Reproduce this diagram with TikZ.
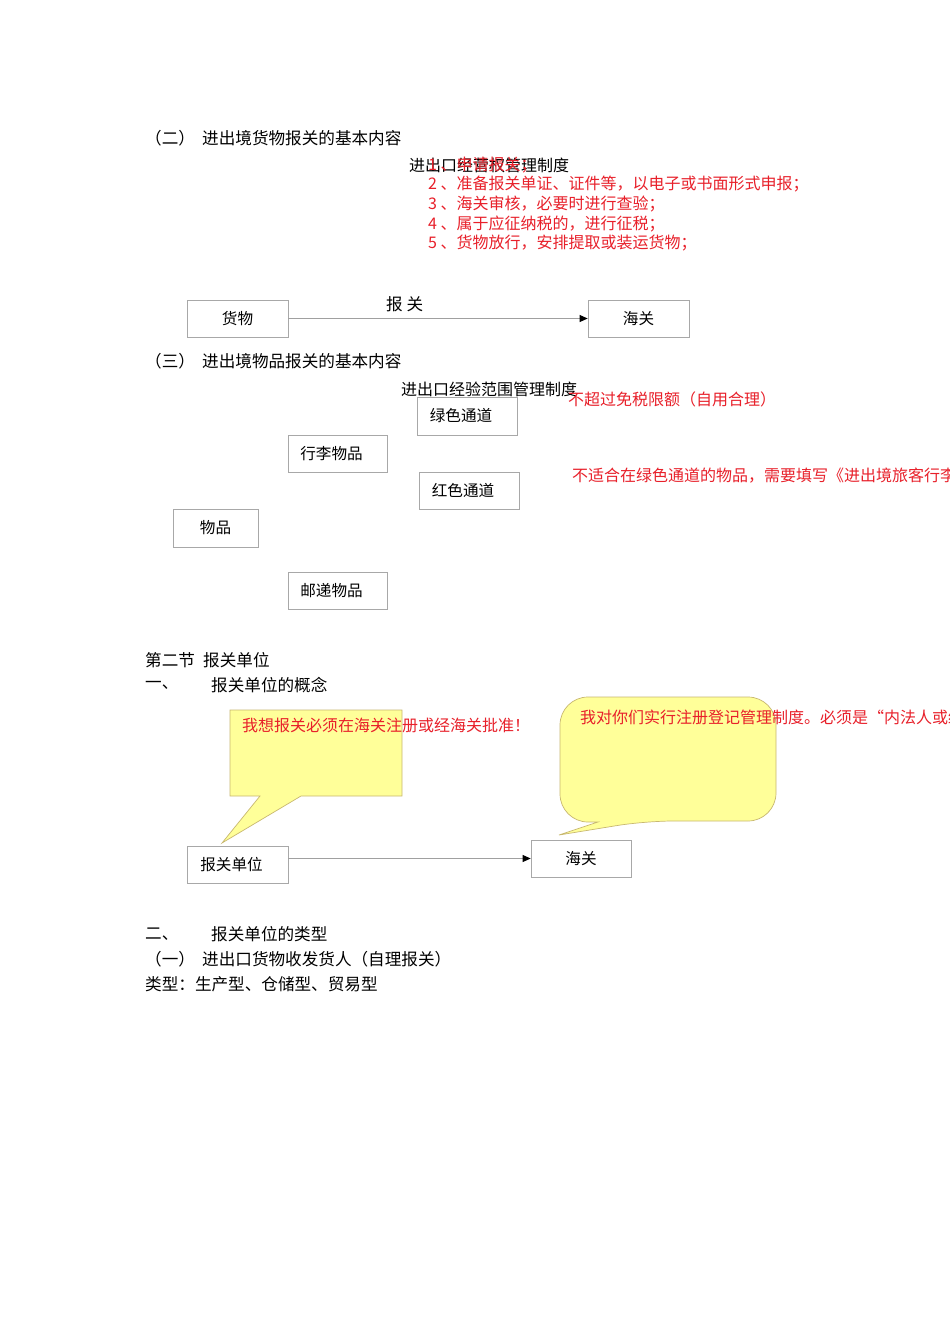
\documentclass[tikz,border=0pt]{standalone}
\usepackage{fontspec}
\setmainfont{Noto Sans CJK SC}
\usetikzlibrary{arrows.meta}
\definecolor{boxgray}{HTML}{A8A8A8}
\definecolor{linegray}{HTML}{A0A0A0}
\definecolor{calloutfill}{HTML}{FFFF99}
\definecolor{calloutdraw}{HTML}{C8B870}
\definecolor{redtext}{HTML}{E8202A}
\newcommand{\lbt}[1]{\raisebox{2pt}{\hspace*{-12pt}#1}}
\newcommand{\cbt}[1]{\raisebox{2pt}{#1}}
\tikzset{
  txt/.style={anchor=west, inner sep=0pt, font=\fontsize{16.6}{18}\selectfont, text=black},
  systxt/.style={anchor=west, inner sep=0pt, font=\fontsize{16}{18}\selectfont, text=black},
  redtxt/.style={anchor=west, inner sep=0pt, font=\fontsize{16}{18}\selectfont, text=redtext},
  boxnode/.style={draw=boxgray, line width=0.7pt, inner sep=0pt, font=\fontsize{15.6}{18}\selectfont},
  conn/.style={draw=linegray, line width=0.7pt, -{Triangle[length=8pt,width=7pt,color=black]}},
  callout/.style={fill=calloutfill, draw=calloutdraw, line width=0.7pt}
}
\begin{document}
\begin{tikzpicture}[x=1pt,y=-1pt]
\useasboundingbox[fill=white] (0,0) rectangle (950,1344);

% Section (二)
\node[txt] (h2a) at (145,138) {（二）};
\node[txt] (h2b) at (202,138) {进出境货物报关的基本内容};
\node[systxt] (sys1) at (409,165) {进出口经营权管理制度};
\node[redtxt] (r1) at (428,165) {1 、申请报关；};
\node[redtxt] (r2) at (428,184) {2 、准备报关单证、证件等，以电子或书面形式申报；};
\node[redtxt] (r3) at (428,204) {3 、海关审核，必要时进行查验；};
\node[redtxt] (r4) at (428,224) {4 、属于应征纳税的，进行征税；};
\node[redtxt] (r5) at (428,243) {5 、货物放行，安排提取或装运货物；};

\node[boxnode, minimum width=101pt, minimum height=37pt] (huowu) at (237.5,318.5) {\cbt{货物}};
\node[boxnode, minimum width=101pt, minimum height=37pt] (hg1) at (638.5,318.5) {\cbt{海关}};
\draw[conn] (huowu.east) -- (hg1.west);
\node[txt] (bglabel) at (386,304) {报\ 关};

% Section (三)
\node[txt] (h3a) at (145,361) {（三）};
\node[txt] (h3b) at (202,361) {进出境物品报关的基本内容};
\node[systxt] (sys2) at (401,389) {进出口经验范围管理制度};
\node[boxnode, minimum width=100pt, minimum height=38pt] (green) at (467,416) {\lbt{绿色通道}};
\node[redtxt] (g1) at (568,399) {不超过免税限额（自用合理）};
\node[boxnode, minimum width=99pt, minimum height=37pt] (xingli) at (337.5,453.5) {\lbt{行李物品}};
\node[boxnode, minimum width=100pt, minimum height=37pt] (red) at (469,490.5) {\lbt{红色通道}};
\node[redtxt] (g2) at (572,476) {不适合在绿色通道的物品，需要填写《进出境旅客行李物品申报单》};
\node[boxnode, minimum width=85pt, minimum height=38pt] (wupin) at (215.5,528) {\cbt{物品}};
\node[boxnode, minimum width=99pt, minimum height=37pt] (youdi) at (337.5,590.5) {\lbt{邮递物品}};

% Section 2
\node[txt] (s2a) at (145,660) {第二节};
\node[txt] (s2b) at (203,660) {报关单位};
\node[txt] (s21a) at (145,685) {一、};
\node[txt] (s21b) at (211,685) {报关单位的概念};

% callouts
\path[callout] (230,710) -- (402,710) -- (402,796) -- (301,796) -- (222,843) -- (260,796) -- (230,796) -- cycle;
\path[callout] (560,760) [rounded corners=28pt] -- (560,697) -- (776,697) -- (776,821) -- (645,821) [sharp corners] -- (559,835) -- (598,822) [rounded corners=28pt] -- (560,822) -- (560,760) -- cycle;
\node[redtxt] (c1) at (242,725) {我想报关必须在海关注册或经海关批准！};
\node[redtxt] (c2) at (580,717) {我对你们实行注册登记管理制度。必须是“内法人或经济组织”};

\node[boxnode, minimum width=101pt, minimum height=37pt] (bgdw) at (237.5,864.5) {\lbt{报关单位}};
\node[boxnode, minimum width=100pt, minimum height=37pt] (hg2) at (581,858.5) {\cbt{海关}};
\draw[conn] (bgdw.east |- hg2.west) -- (hg2.west);

\node[txt] (s22a) at (145,934) {二、};
\node[txt] (s22b) at (211,934) {报关单位的类型};
\node[txt] (s23a) at (145,959) {（一）};
\node[txt] (s23b) at (202,959) {进出口货物收发货人（自理报关）};
\node[txt] (s24) at (145,984) {类型：生产型、仓储型、贸易型};
\end{tikzpicture}
\end{document}
